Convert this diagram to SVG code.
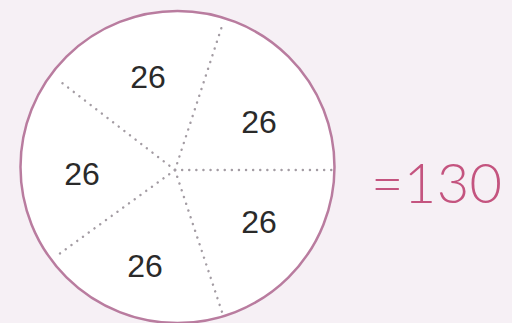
<svg xmlns="http://www.w3.org/2000/svg" width="512" height="323" viewBox="0 0 512 323">
<style>
.num{font-family:"Liberation Sans",Arial,sans-serif;font-size:32px;fill:#2a2a2a;text-anchor:middle}
.dot{stroke:#a39ca3;stroke-width:2.4;stroke-dasharray:0.1 7;stroke-linecap:round;fill:none}
</style>
<rect width="512" height="323" fill="#f6f0f5"/>
<g id="circle">
<ellipse cx="177.5" cy="167" rx="157" ry="156" fill="#ffffff" stroke="#b97c9f" stroke-width="2.5"/>
</g>
<g id="connectors">
<line class="dot" x1="175" y1="170" x2="333" y2="170"/>
<line class="dot" x1="175" y1="170" x2="222" y2="26"/>
<line class="dot" x1="175" y1="170" x2="57" y2="79"/>
<line class="dot" x1="175" y1="170" x2="55" y2="257"/>
<line class="dot" x1="175" y1="170" x2="222" y2="312"/>
</g>
<g id="n1"><text class="num" x="148" y="88">26</text></g>
<g id="n2"><text class="num" x="259" y="133">26</text></g>
<g id="n3"><text class="num" x="82" y="185">26</text></g>
<g id="n4"><text class="num" x="259" y="233">26</text></g>
<g id="n5"><text class="num" x="145" y="277">26</text></g>
<g id="result"><text x="371" y="203" font-family="Lato,Liberation Sans,Arial,sans-serif" font-weight="300" font-size="56" fill="#c4547f" textLength="131">=130</text></g>
</svg>
